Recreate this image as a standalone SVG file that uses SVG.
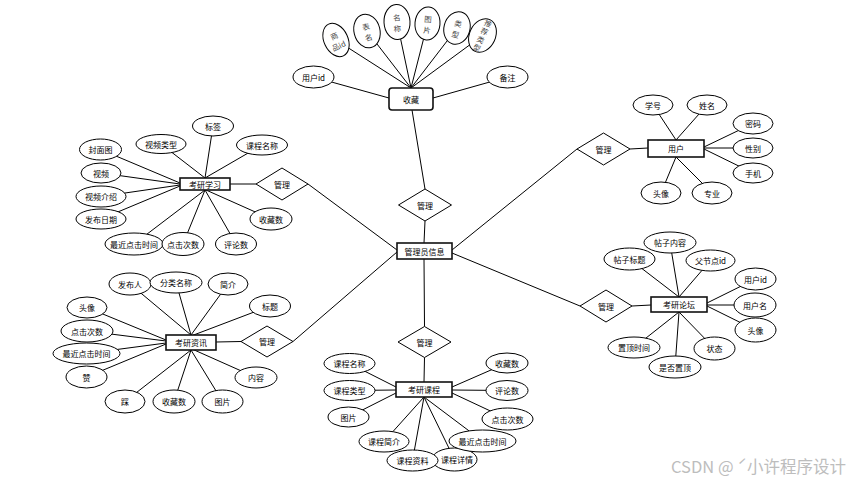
<svg xmlns="http://www.w3.org/2000/svg" width="856" height="482" viewBox="0 0 856 482">
<style>
.bg{fill:#fff}
.c line{stroke:#000;stroke-width:1}
.e{fill:#fff;stroke:#000;stroke-width:1}
.r{fill:#fff;stroke:#111;stroke-width:1.6}
.d{fill:#fff;stroke:#000;stroke-width:1}
text{font-family:"Noto Sans CJK SC","Liberation Sans",sans-serif;font-size:8px;fill:#000;text-anchor:middle;dominant-baseline:central}
.v{font-size:7.5px;fill:#444}
.wm{font-size:16.5px;fill:#bdbdbd;text-anchor:start}
</style>
<rect class="bg" x="0" y="0" width="856" height="482"/>
<g id="connectors" class="c">
<line x1="412" y1="110" x2="425" y2="189"/>
<line x1="425" y1="221" x2="424" y2="243"/>
<line x1="256" y1="184" x2="230" y2="184"/>
<line x1="308" y1="184" x2="397" y2="250"/>
<line x1="241" y1="341.5" x2="216" y2="342"/>
<line x1="293" y1="341.5" x2="397" y2="252"/>
<line x1="577" y1="149" x2="452" y2="250"/>
<line x1="630" y1="149" x2="648" y2="148"/>
<line x1="580" y1="306" x2="452" y2="253"/>
<line x1="632" y1="306" x2="651" y2="305"/>
<line x1="424.5" y1="326.5" x2="424" y2="259"/>
<line x1="424.5" y1="357.5" x2="424" y2="382"/>
<line x1="411" y1="88" x2="336" y2="40"/>
<line x1="411" y1="88" x2="367" y2="31"/>
<line x1="411" y1="88" x2="397" y2="22"/>
<line x1="411" y1="88" x2="427.5" y2="23.5"/>
<line x1="411" y1="88" x2="457" y2="28"/>
<line x1="411" y1="88" x2="482.5" y2="35.5"/>
<line x1="389" y1="98" x2="313.5" y2="77"/>
<line x1="433" y1="98" x2="507.5" y2="77"/>
<line x1="205" y1="178" x2="161" y2="144"/>
<line x1="205" y1="178" x2="213" y2="126"/>
<line x1="205" y1="178" x2="262" y2="145"/>
<line x1="180" y1="183" x2="100.5" y2="149.5"/>
<line x1="180" y1="184" x2="101" y2="173"/>
<line x1="180" y1="185" x2="101" y2="196.5"/>
<line x1="180" y1="186" x2="101" y2="219"/>
<line x1="205" y1="190" x2="134" y2="244"/>
<line x1="205" y1="190" x2="183" y2="244"/>
<line x1="205" y1="190" x2="236" y2="244"/>
<line x1="206" y1="190" x2="271" y2="219"/>
<line x1="191" y1="335" x2="130" y2="284"/>
<line x1="191" y1="335" x2="176" y2="282.5"/>
<line x1="191" y1="335" x2="228" y2="284"/>
<line x1="191" y1="336" x2="270" y2="306"/>
<line x1="166" y1="340" x2="87" y2="307.5"/>
<line x1="166" y1="341" x2="87" y2="331"/>
<line x1="166" y1="343" x2="86.5" y2="353.5"/>
<line x1="166" y1="344" x2="86.5" y2="377"/>
<line x1="191" y1="350" x2="125" y2="401.5"/>
<line x1="191" y1="350" x2="174" y2="401.5"/>
<line x1="191" y1="350" x2="222.5" y2="401.5"/>
<line x1="192" y1="349" x2="256" y2="377.5"/>
<line x1="396" y1="387" x2="349.5" y2="363.5"/>
<line x1="396" y1="390" x2="349.5" y2="390.5"/>
<line x1="396" y1="393" x2="348.5" y2="417"/>
<line x1="424" y1="397" x2="384" y2="441.5"/>
<line x1="424" y1="397" x2="412.5" y2="460.5"/>
<line x1="424" y1="397" x2="454.5" y2="459.5"/>
<line x1="424" y1="397" x2="482.5" y2="441"/>
<line x1="452" y1="387" x2="507" y2="363"/>
<line x1="452" y1="390" x2="507" y2="390.5"/>
<line x1="452" y1="393" x2="507.5" y2="419"/>
<line x1="676" y1="140" x2="653" y2="105"/>
<line x1="676" y1="140" x2="707" y2="105"/>
<line x1="704" y1="147" x2="753" y2="123.5"/>
<line x1="704" y1="148" x2="753" y2="148"/>
<line x1="704" y1="149" x2="753" y2="173"/>
<line x1="676" y1="157" x2="661" y2="193"/>
<line x1="676" y1="157" x2="712" y2="193"/>
<line x1="679" y1="297" x2="629.5" y2="259"/>
<line x1="679" y1="297" x2="670" y2="242.5"/>
<line x1="679" y1="297" x2="710.5" y2="260.5"/>
<line x1="707" y1="303" x2="755.5" y2="279"/>
<line x1="707" y1="305" x2="755" y2="305"/>
<line x1="707" y1="306" x2="755.5" y2="330"/>
<line x1="679" y1="312" x2="634" y2="347.5"/>
<line x1="679" y1="312" x2="675" y2="367"/>
<line x1="679" y1="312" x2="714.5" y2="348.5"/>
</g>

<g id="rel-top"><polygon class="d" points="398.5,205 425,189 451.5,205 425,221"/><text x="425" y="205">管理</text></g>
<g id="rel-bottom"><polygon class="d" points="398,342 424.5,326.5 451,342 424.5,357.5"/><text x="424.5" y="342">管理</text></g>
<g id="rel-lt"><polygon class="d" points="256,184 282,168 308,184 282,200"/><text x="282" y="184">管理</text></g>
<g id="rel-lb"><polygon class="d" points="241,341.5 267,326 293,341.5 267,357"/><text x="267" y="341.5">管理</text></g>
<g id="rel-rt"><polygon class="d" points="577,149 603.5,133 630,149 603.5,165"/><text x="603.5" y="149">管理</text></g>
<g id="rel-rb"><polygon class="d" points="580,306 606,290 632,306 606,322"/><text x="606" y="306">管理</text></g>

<g id="admin"><rect class="r" x="397" y="243" width="55" height="16"/><text x="424.5" y="251">管理员信息</text></g>
<g id="shoucang"><rect class="r" x="389" y="88" width="44" height="22" rx="3"/><text x="411" y="99">收藏</text></g>
<g id="xuexi"><rect class="r" x="180" y="178" width="50" height="12"/><text x="205" y="184">考研学习</text></g>
<g id="zixun"><rect class="r" x="166" y="335" width="50" height="15"/><text x="191" y="342.5">考研资讯</text></g>
<g id="kecheng"><rect class="r" x="396" y="382" width="56" height="15"/><text x="424" y="389.5">考研课程</text></g>
<g id="yonghu"><rect class="r" x="648" y="140" width="56" height="17"/><text x="676" y="148.5">用户</text></g>
<g id="luntan"><rect class="r" x="651" y="297" width="56" height="15"/><text x="679" y="304.5">考研论坛</text></g>

<g id="sc-spid" transform="translate(336,40) rotate(-25)"><ellipse class="e" cx="0" cy="0" rx="12" ry="17.5"/><text class="v" x="0" y="-5">商</text><text class="v" x="0" y="6">品id</text></g>
<g id="sc-bm" transform="translate(367,31) rotate(-14)"><ellipse class="e" cx="0" cy="0" rx="13" ry="17"/><text class="v" x="0" y="-5">表</text><text class="v" x="0" y="6">名</text></g>
<g id="sc-mc" transform="translate(397,22) rotate(-3)"><ellipse class="e" cx="0" cy="0" rx="13" ry="17.5"/><text class="v" x="0" y="-5">名</text><text class="v" x="0" y="6">称</text></g>
<g id="sc-tp" transform="translate(427.5,23.5) rotate(5)"><ellipse class="e" cx="0" cy="0" rx="12.5" ry="16.5"/><text class="v" x="0" y="-5">图</text><text class="v" x="0" y="6">片</text></g>
<g id="sc-lx" transform="translate(457,28) rotate(15)"><ellipse class="e" cx="0" cy="0" rx="13" ry="16.5"/><text class="v" x="0" y="-5">类</text><text class="v" x="0" y="6">型</text></g>
<g id="sc-tjlx" transform="translate(482.5,35.5) rotate(25)"><ellipse class="e" cx="0" cy="0" rx="13" ry="17.5"/><text class="v" x="0" y="-14">推</text><text class="v" x="0" y="-5">荐</text><text class="v" x="0" y="4">类</text><text class="v" x="0" y="13">型</text></g>
<g id="sc-yhid"><ellipse class="e" cx="313.5" cy="77" rx="20.5" ry="11"/><text x="313.5" y="77">用户id</text></g>
<g id="sc-bz"><ellipse class="e" cx="507.5" cy="77" rx="20.5" ry="11"/><text x="507.5" y="77">备注</text></g>

<g id="xx-fmt"><ellipse class="e" cx="100.5" cy="149.5" rx="21" ry="10.5"/><text x="100.5" y="149.5">封面图</text></g>
<g id="xx-splx"><ellipse class="e" cx="161" cy="144" rx="25" ry="9.5"/><text x="161" y="144">视频类型</text></g>
<g id="xx-bq"><ellipse class="e" cx="213" cy="126" rx="20.5" ry="10"/><text x="213" y="126">标签</text></g>
<g id="xx-kcmc"><ellipse class="e" cx="262" cy="145" rx="25.5" ry="10"/><text x="262" y="145">课程名称</text></g>
<g id="xx-sp"><ellipse class="e" cx="101" cy="173" rx="20" ry="10"/><text x="101" y="173">视频</text></g>
<g id="xx-spjs"><ellipse class="e" cx="101" cy="196.5" rx="25" ry="10.5"/><text x="101" y="196.5">视频介绍</text></g>
<g id="xx-fbrq"><ellipse class="e" cx="101" cy="219" rx="25" ry="10"/><text x="101" y="219">发布日期</text></g>
<g id="xx-zjdj"><ellipse class="e" cx="134" cy="244" rx="29" ry="11"/><text x="134" y="244">最近点击时间</text></g>
<g id="xx-djcs"><ellipse class="e" cx="183" cy="244" rx="21" ry="11.5"/><text x="183" y="244">点击次数</text></g>
<g id="xx-pls"><ellipse class="e" cx="236" cy="244" rx="20.5" ry="11"/><text x="236" y="244">评论数</text></g>
<g id="xx-scs"><ellipse class="e" cx="271" cy="219" rx="21" ry="11"/><text x="271" y="219">收藏数</text></g>

<g id="zx-fbr"><ellipse class="e" cx="130" cy="284" rx="21" ry="11"/><text x="130" y="284">发布人</text></g>
<g id="zx-flmc"><ellipse class="e" cx="176" cy="282.5" rx="26" ry="10.5"/><text x="176" y="282.5">分类名称</text></g>
<g id="zx-jj"><ellipse class="e" cx="228" cy="284" rx="20" ry="11"/><text x="228" y="284">简介</text></g>
<g id="zx-bt"><ellipse class="e" cx="270" cy="306" rx="20.5" ry="11"/><text x="270" y="306">标题</text></g>
<g id="zx-tx"><ellipse class="e" cx="87" cy="307.5" rx="20" ry="10.5"/><text x="87" y="307.5">头像</text></g>
<g id="zx-djcs"><ellipse class="e" cx="87" cy="331" rx="26" ry="11"/><text x="87" y="331">点击次数</text></g>
<g id="zx-zjdj"><ellipse class="e" cx="86.5" cy="353.5" rx="33.5" ry="10.5"/><text x="86.5" y="353.5">最近点击时间</text></g>
<g id="zx-zan"><ellipse class="e" cx="86.5" cy="377" rx="20.5" ry="11"/><text x="86.5" y="377">赞</text></g>
<g id="zx-cai"><ellipse class="e" cx="125" cy="401.5" rx="20" ry="11.5"/><text x="125" y="401.5">踩</text></g>
<g id="zx-scs"><ellipse class="e" cx="174" cy="401.5" rx="21" ry="11.5"/><text x="174" y="401.5">收藏数</text></g>
<g id="zx-tp"><ellipse class="e" cx="222.5" cy="401.5" rx="20.5" ry="11.5"/><text x="222.5" y="401.5">图片</text></g>
<g id="zx-nr"><ellipse class="e" cx="256" cy="377.5" rx="21" ry="10.5"/><text x="256" y="377.5">内容</text></g>

<g id="kc-kcmc"><ellipse class="e" cx="349.5" cy="363.5" rx="25.5" ry="10"/><text x="349.5" y="363.5">课程名称</text></g>
<g id="kc-kclx"><ellipse class="e" cx="349.5" cy="390.5" rx="25.5" ry="10"/><text x="349.5" y="390.5">课程类型</text></g>
<g id="kc-tp"><ellipse class="e" cx="348.5" cy="417" rx="20.5" ry="10"/><text x="348.5" y="417">图片</text></g>
<g id="kc-kcjj"><ellipse class="e" cx="384" cy="441.5" rx="25" ry="10.5"/><text x="384" y="441.5">课程简介</text></g>
<g id="kc-kcxq"><ellipse class="e" cx="454.5" cy="459.5" rx="22.5" ry="11.5"/><text x="457" y="459.5">课程详情</text></g>
<g id="kc-zjdj"><ellipse class="e" cx="482.5" cy="441" rx="33.5" ry="11"/><text x="482.5" y="441">最近点击时间</text></g>
<g id="kc-kczl"><ellipse class="e" cx="412.5" cy="460.5" rx="25.5" ry="10.5"/><text x="412.5" y="460.5">课程资料</text></g>
<g id="kc-scs"><ellipse class="e" cx="507" cy="363" rx="21" ry="10"/><text x="507" y="363">收藏数</text></g>
<g id="kc-pls"><ellipse class="e" cx="507" cy="390.5" rx="21" ry="10"/><text x="507" y="390.5">评论数</text></g>
<g id="kc-djcs"><ellipse class="e" cx="507.5" cy="419" rx="25.5" ry="11"/><text x="507.5" y="419">点击次数</text></g>

<g id="yh-xh"><ellipse class="e" cx="653" cy="105" rx="20" ry="10"/><text x="653" y="105">学号</text></g>
<g id="yh-xm"><ellipse class="e" cx="707" cy="105" rx="20" ry="10"/><text x="707" y="105">姓名</text></g>
<g id="yh-mm"><ellipse class="e" cx="753" cy="123.5" rx="20" ry="10.5"/><text x="753" y="123.5">密码</text></g>
<g id="yh-xb"><ellipse class="e" cx="753" cy="148" rx="20" ry="10"/><text x="753" y="148">性别</text></g>
<g id="yh-sj"><ellipse class="e" cx="753" cy="173" rx="20" ry="10"/><text x="753" y="173">手机</text></g>
<g id="yh-tx"><ellipse class="e" cx="661" cy="193" rx="20" ry="11"/><text x="661" y="193">头像</text></g>
<g id="yh-zy"><ellipse class="e" cx="712" cy="193" rx="20" ry="11"/><text x="712" y="193">专业</text></g>

<g id="lt-tznr"><ellipse class="e" cx="670" cy="242.5" rx="26" ry="10.5"/><text x="670" y="242.5">帖子内容</text></g>
<g id="lt-tzbt"><ellipse class="e" cx="629.5" cy="259" rx="25.5" ry="11"/><text x="629.5" y="259">帖子标题</text></g>
<g id="lt-fjd"><ellipse class="e" cx="710.5" cy="260.5" rx="24.5" ry="10.5"/><text x="710.5" y="260.5">父节点id</text></g>
<g id="lt-yhid"><ellipse class="e" cx="755.5" cy="279" rx="20.5" ry="11"/><text x="755.5" y="279">用户id</text></g>
<g id="lt-yhm"><ellipse class="e" cx="755" cy="305" rx="21" ry="12"/><text x="755" y="305">用户名</text></g>
<g id="lt-tx"><ellipse class="e" cx="755.5" cy="330" rx="20.5" ry="12"/><text x="755.5" y="330">头像</text></g>
<g id="lt-zdsj"><ellipse class="e" cx="634" cy="347.5" rx="26" ry="10.5"/><text x="634" y="347.5">置顶时间</text></g>
<g id="lt-sfzd"><ellipse class="e" cx="675" cy="367" rx="26" ry="11"/><text x="675" y="367">是否置顶</text></g>
<g id="lt-zt"><ellipse class="e" cx="714.5" cy="348.5" rx="20.5" ry="11.5"/><text x="714.5" y="348.5">状态</text></g>

<text class="wm" x="671" y="466">CSDN @ ˊ小许程序设计</text>
</svg>
